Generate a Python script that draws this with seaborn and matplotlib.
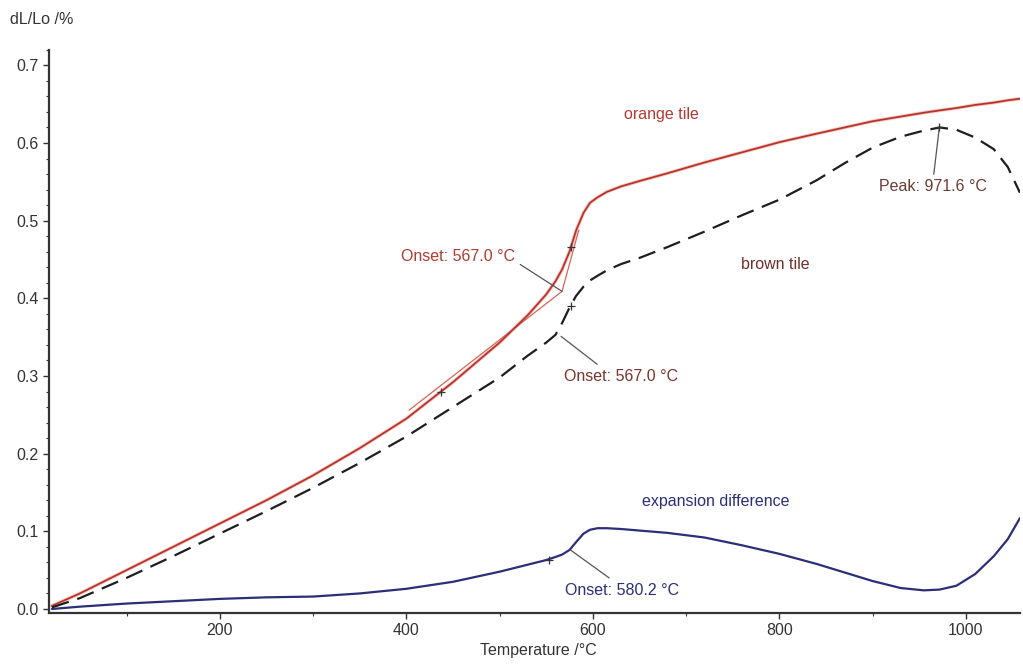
import numpy as np
import pandas as pd
import matplotlib
matplotlib.use("Agg")
import matplotlib.pyplot as plt
import seaborn as sns
from matplotlib.ticker import MultipleLocator

# ---- data ----
temperature = [20, 50, 100, 150, 200, 250, 300, 350, 400, 450, 500, 530, 550, 560, 567,
               575, 582, 590, 597, 605, 615, 630, 650, 680, 720, 760, 800, 840, 870,
               900, 930, 955, 972, 990, 1010, 1030, 1045, 1058]
orange_tile = [0.004, 0.020, 0.050, 0.080, 0.110, 0.140, 0.172, 0.207, 0.245, 0.292, 0.343,
               0.378, 0.405, 0.422, 0.437, 0.460, 0.487, 0.510, 0.523, 0.530, 0.537, 0.544,
               0.551, 0.561, 0.575, 0.588, 0.601, 0.612, 0.620, 0.628, 0.634, 0.639, 0.642,
               0.645, 0.649, 0.652, 0.655, 0.657]
brown_tile = [0.002, 0.014, 0.040, 0.068, 0.097, 0.126, 0.156, 0.188, 0.222, 0.260, 0.298,
              0.326, 0.343, 0.353, 0.368, 0.388, 0.403, 0.415, 0.423, 0.429, 0.436, 0.444,
              0.452, 0.466, 0.486, 0.507, 0.527, 0.552, 0.574, 0.594, 0.608, 0.616, 0.620,
              0.617, 0.607, 0.592, 0.569, 0.536]
expansion_diff = [0.000, 0.003, 0.007, 0.010, 0.013, 0.015, 0.016, 0.020, 0.026, 0.035, 0.048,
                  0.057, 0.063, 0.067, 0.070, 0.076, 0.086, 0.097, 0.102, 0.104, 0.104, 0.103,
                  0.101, 0.098, 0.092, 0.082, 0.071, 0.058, 0.047, 0.036, 0.027, 0.024, 0.025,
                  0.030, 0.045, 0.068, 0.090, 0.117]

x_ticks = [200, 400, 600, 800, 1000]
y_ticks = [0.0, 0.1, 0.2, 0.3, 0.4, 0.5, 0.6, 0.7]

# onset tangent construction on orange tile
tangent_t = [403, 567, 585]
tangent_v = [0.256, 0.409, 0.488]

# evaluation markers
marker_t = [437, 577, 577, 971.6, 553]
marker_v = [0.280, 0.466, 0.390, 0.620, 0.063]

# ---- styling ----
sns.set_style("ticks")
plt.rcParams['font.family'] = ['Liberation Sans', 'DejaVu Sans']

RED = "#b8342b"
RED_TXT = "#b23a30"
DARK = "#1e1e1e"
BROWN_TXT = "#6e2f2a"
NAVY = "#2a2f78"

df = pd.DataFrame({"T": temperature, "orange": orange_tile,
                   "brown": brown_tile, "diff": expansion_diff})

fig = plt.figure(figsize=(10.23, 6.64), dpi=100)
ax = fig.add_axes([0.048, 0.077, 0.949, 0.848])

# faint halo under red line (JPEG-like look)
sns.lineplot(data=df, x="T", y="orange", ax=ax, color="#f4c9c3", lw=2.6, zorder=2)
sns.lineplot(data=df, x="T", y="orange", ax=ax, color=RED, lw=1.3, zorder=3)
sns.lineplot(data=df, x="T", y="brown", ax=ax, color=DARK, lw=1.6, zorder=3,
             dashes=False).lines[-1].set_dashes([8, 4])
sns.lineplot(data=df, x="T", y="diff", ax=ax, color=NAVY, lw=1.6, zorder=3)

# tangent lines of onset evaluation
ax.plot(tangent_t, tangent_v, color="#d9645a", lw=0.9, zorder=2)

# small evaluation marks
ax.scatter(marker_t, marker_v, marker="+", s=40, color="#333333", lw=0.9, zorder=4)

# ---- text labels ----
fs = 11.5
ax.text(674, 0.637, "orange tile", color=RED_TXT, fontsize=fs, ha="center", va="center")
ax.text(796, 0.443, "brown tile", color=BROWN_TXT, fontsize=fs, ha="center", va="center")
ax.text(732, 0.138, "expansion difference", color=NAVY, fontsize=fs, ha="center", va="center")

lead = dict(arrowstyle="-", color="#555555", lw=0.9)
ax.annotate("Onset: 567.0 °C", xy=(567, 0.409), xytext=(455, 0.454), color=RED_TXT,
            fontsize=fs, ha="center", va="center",
            arrowprops=dict(lead, shrinkA=2, shrinkB=0, relpos=(1.0, 0.2)))
ax.annotate("Onset: 567.0 °C", xy=(566, 0.351), xytext=(630, 0.299), color="#7a3428",
            fontsize=fs, ha="center", va="center",
            arrowprops=dict(lead, shrinkA=2, shrinkB=0, relpos=(0.35, 1.0)))
ax.annotate("Peak: 971.6 °C", xy=(971.6, 0.620), xytext=(965, 0.544), color="#6b3b35",
            fontsize=fs, ha="center", va="center",
            arrowprops=dict(lead, shrinkA=1, shrinkB=0, relpos=(0.5, 1.0)))
ax.annotate("Onset: 580.2 °C", xy=(576, 0.076), xytext=(631, 0.024), color=NAVY,
            fontsize=fs, ha="center", va="center",
            arrowprops=dict(lead, shrinkA=2, shrinkB=0, relpos=(0.45, 1.0)))

# ---- axes ----
ax.set_xlim(17, 1058)
ax.set_ylim(-0.005, 0.72)
ax.set_xticks(x_ticks)
ax.set_yticks(y_ticks)
ax.set_xticklabels([str(t) for t in x_ticks], fontsize=fs, color="#333333")
ax.set_yticklabels([f"{v:.1f}" for v in y_ticks], fontsize=fs, color="#333333")
ax.xaxis.set_minor_locator(MultipleLocator(100))
ax.yaxis.set_minor_locator(MultipleLocator(0.02))
ax.tick_params(which="major", length=4, width=1.0, direction="out", color="#333333")
ax.tick_params(which="minor", length=2.5, width=0.8, direction="out", color="#333333")
ax.set_xlabel("")
ax.set_ylabel("")
for side in ["top", "right"]:
    ax.spines[side].set_visible(False)
for side in ["left", "bottom"]:
    ax.spines[side].set_color("#333333")
    ax.spines[side].set_linewidth(1.6)

fig.text(10 / 1023, 1 - 20 / 664, "dL/Lo /%", fontsize=fs, color="#333333",
         ha="left", va="center")
fig.text(538 / 1023, 1 - 651 / 664, "Temperature /°C", fontsize=fs, color="#333333",
         ha="center", va="center")

fig.savefig("out.png", dpi=100, facecolor="white")
